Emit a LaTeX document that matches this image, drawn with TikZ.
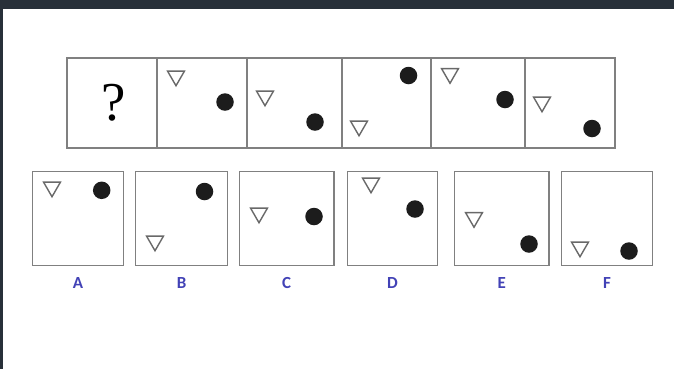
\documentclass[tikz,border=0pt]{standalone}
\usepackage{fontspec}
\usepackage{xcolor}
\usepackage{tikz}
\usetikzlibrary{shapes.geometric,positioning}
\newfontfamily\labelfont{Carlito}
\newfontfamily\qfont{Liberation Serif}
\definecolor{frameDark}{RGB}{40,48,57}
\definecolor{boxGray}{RGB}{128,128,128}
\definecolor{triGray}{RGB}{105,105,105}
\definecolor{dotBlack}{RGB}{28,28,28}
\definecolor{optBlue}{RGB}{66,66,182}

\begin{document}
\begin{tikzpicture}[x=1bp,y=-1bp,
  frame/.style={draw=boxGray, line width=1.2bp},
  optbox/.style={frame, minimum height=94bp, inner sep=0pt},
  tri/.style={regular polygon, regular polygon sides=3, shape border rotate=180,
    draw=triGray, line width=1.4bp, minimum size=19.5bp, inner sep=0pt},
  dot/.style={circle, fill=dotBlack, minimum size=17.5bp, inner sep=0pt},
  optlabel/.style={text=optBlue, font=\labelfont\bfseries\fontsize{17}{17}\selectfont, inner sep=0pt}]
\useasboundingbox (0,0) rectangle (674,369);
\fill[white] (0,0) rectangle (674,369);
\fill[frameDark] (0,0) rectangle (674,9);
\fill[frameDark] (0,0) rectangle (3,369);
% question row
\draw[frame] (67,58) rectangle (157,148);
\draw[frame] (157,58) rectangle (247,148);
\draw[frame] (247,58) rectangle (342,148);
\draw[frame] (342,58) rectangle (431,148);
\draw[frame] (431,58) rectangle (525,148);
\draw[frame] (525,58) rectangle (615,148);
\node[font=\qfont\fontsize{55}{55}\selectfont, inner sep=0pt] (qmark) at (114,103) {?};
\node[tri] (tri2) at (176,76) {};
\node[dot] (dot2) at (225,102) {};
\node[tri] (tri3) at (265,96) {};
\node[dot] (dot3) at (315,122) {};
\node[tri] (tri4) at (359,126) {};
\node[dot] (dot4) at (408.5,75.5) {};
\node[tri] (tri5) at (450,73.5) {};
\node[dot] (dot5) at (505,99.5) {};
\node[tri] (tri6) at (542,102) {};
\node[dot] (dot6) at (592,128.5) {};
% answer options
\node[optbox, minimum width=90.5bp] (optA) at (78,218.3) {};
\node[optbox, minimum width=91.5bp] (optB) at (181.5,218.3) {};
\node[optbox, minimum width=94.5bp] (optC) at (286.7,218.3) {};
\node[optbox, minimum width=90.5bp] (optD) at (392.5,218.3) {};
\node[optbox, minimum width=94.5bp] (optE) at (501.7,218.3) {};
\node[optbox, minimum width=91.5bp] (optF) at (606.9,218.3) {};
\node[tri] (triA) at (52,187) {};
\node[dot] (dotA) at (101.7,190.3) {};
\node[tri] (triB) at (155,241) {};
\node[dot] (dotB) at (204.5,191.5) {};
\node[tri] (triC) at (259,213) {};
\node[dot] (dotC) at (314,216.5) {};
\node[tri] (triD) at (371,183) {};
\node[dot] (dotD) at (415,209) {};
\node[tri] (triE) at (474,217.5) {};
\node[dot] (dotE) at (529,244) {};
\node[tri] (triF) at (580,247) {};
\node[dot] (dotF) at (629,251) {};
\node[optlabel, below=11bp of optA] (labA) {A};
\node[optlabel, below=11bp of optB] (labB) {B};
\node[optlabel, below=11bp of optC] (labC) {C};
\node[optlabel, below=11bp of optD] (labD) {D};
\node[optlabel, below=11bp of optE] (labE) {E};
\node[optlabel, below=11bp of optF] (labF) {F};
\end{tikzpicture}
\end{document}
